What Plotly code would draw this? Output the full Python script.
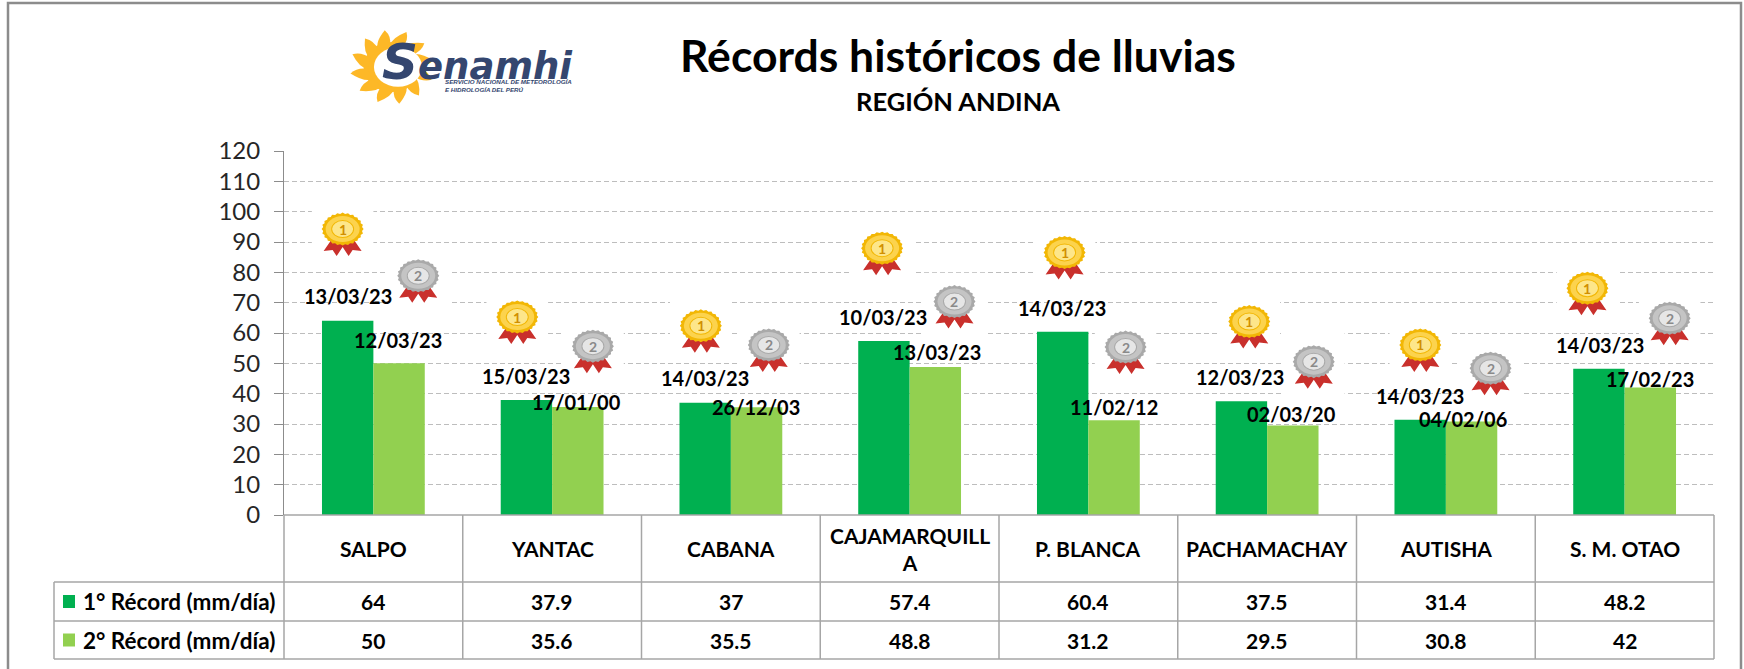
import base64, math
import plotly.graph_objects as go

# ---------- data ----------
stations = ["SALPO", "YANTAC", "CABANA", "CAJAMARQUILL<br>A", "P. BLANCA", "PACHAMACHAY", "AUTISHA", "S. M. OTAO"]
record_1 = [64, 37.9, 37, 57.4, 60.4, 37.5, 31.4, 48.2]
record_2 = [50, 35.6, 35.5, 48.8, 31.2, 29.5, 30.8, 42]
dates_1 = ["13/03/23", "15/03/23", "14/03/23", "10/03/23", "14/03/23", "12/03/23", "14/03/23", "14/03/23"]
dates_2 = ["12/03/23", "17/01/00", "26/12/03", "13/03/23", "11/02/12", "02/03/20", "04/02/06", "17/02/23"]
series_names = ["1° Récord (mm/día)", "2° Récord (mm/día)"]
y_ticks = list(range(0, 121, 10))

# ---------- placement of the free-floating decorations ----------
medal1_dx = [-.172, -.195, -.168, -.154, -.133, -.100, -.143, -.208]
medal1_y = [93.6, 64.6, 61.7, 87.3, 85.9, 63.1, 55.4, 74.1]
medal2_dx = [.251, .228, .212, .251, .208, .261, .250, .252]
medal2_y = [78.2, 55.0, 55.4, 69.7, 54.7, 49.9, 47.7, 64.2]
date1_dx = [-.141, -.145, -.143, -.147, -.145, -.150, -.142, -.140]
date1_y = [72.3, 45.9, 45.1, 65.3, 68.3, 45.5, 39.3, 56.1]
date2_dx = [.139, .135, .143, .151, .141, .135, .095, .140]
date2_y = [57.6, 37.4, 35.6, 53.6, 35.6, 33.4, 31.6, 44.8]

W, H = 1744, 669
L, R, T, B = 284, 1714, 151, 515
FONT = "Lato"
C1, C2 = "#00b050", "#92d050"
LINE = "#a6a6a6"
px = lambda v: (v - L) / (R - L)
py = lambda v: (B - v) / (B - T)


def uri(svg):
    return "data:image/svg+xml;base64," + base64.b64encode(svg.encode()).decode()


def medal_svg(face, rim, inner):
    pts = []
    for i in range(48):
        f = 1 if i % 2 == 0 else .93
        a = i * math.pi / 24
        pts.append(f"{31 + 21 * f * math.cos(a):.1f},{29 + 16.5 * f * math.sin(a):.1f}")
    return uri(f'''<svg xmlns="http://www.w3.org/2000/svg" width="62" height="62" viewBox="0 0 62 62">
<rect width="62" height="62" fill="#fff"/>
<path d="M21 38 L12 51 L21 50 L25 56 L31 47 L37 56 L41 50 L50 51 L41 38 Z" fill="#c9302c"/>
<polygon points="{' '.join(pts)}" fill="{rim}"/>
<ellipse cx="31" cy="29" rx="17" ry="13" fill="{face}"/>
<ellipse cx="31" cy="29" rx="11" ry="8.5" fill="{inner}" stroke="{rim}" stroke-width="1"/>
</svg>''')


def sun_svg():
    d = []
    n = 12
    cx, cy = 50, 50
    for i in range(n):
        a = 2 * math.pi * i / n - 1.4
        w = math.pi / n
        p = lambda r, t: f"{cx + r * math.cos(t):.1f} {cy + r * math.sin(t):.1f}"
        d.append(f"M{p(28, a - w)} Q{p(38, a - .2)} {p(49, a + .18)} Q{p(40, a + .35)} {p(28, a + w)} Z")
    return uri(f'''<svg xmlns="http://www.w3.org/2000/svg" width="100" height="100" viewBox="0 0 100 100">
<circle cx="50" cy="50" r="33" fill="#fdb827"/>{''.join(f'<path d="{s}" fill="#fdb827"/>' for s in d)}
<ellipse cx="57" cy="50" rx="28" ry="26" fill="#fff"/></svg>''')


GOLD = medal_svg("#fcd34d", "#f2b705", "#fde68a")
SILVER = medal_svg("#c4c4c4", "#a9a9a9", "#e6e6e6")

fig = go.Figure()
xs = list(range(len(stations)))
fig.add_bar(x=xs, y=record_1, name=series_names[0], marker=dict(color=C1, line_width=0))
fig.add_bar(x=xs, y=record_2, name=series_names[1], marker=dict(color=C2, line_width=0))

images, shapes, notes = [], [], []


def note(x, y, text, size, xref="paper", yref="paper", color="#000000", bold=True, family=FONT, xanchor="center", **kw):
    notes.append(dict(x=x, y=y, xref=xref, yref=yref, text=f"<b>{text}</b>" if bold else text, showarrow=False,
                      xanchor=xanchor, yanchor="middle", font=dict(family=family, size=size, color=color), **kw))


for i in xs:
    for dx, yy, src, dig, col in ((medal1_dx[i], medal1_y[i], GOLD, "1", "#d18f00"),
                                  (medal2_dx[i], medal2_y[i], SILVER, "2", "#8a8a8a")):
        images.append(dict(source=src, xref="x", yref="y", x=i + dx, y=yy, sizex=62 / 178.75, sizey=62 / 3.033,
                           xanchor="center", yanchor="middle", sizing="contain", layer="above"))
        note(i + dx, yy + .66, dig, 14, "x", "y", col)
    note(i + date1_dx[i], date1_y[i], dates_1[i], 20, "x", "y")
    note(i + date2_dx[i], date2_y[i], dates_2[i], 20, "x", "y")


def line(x0, y0, x1, y1, color=LINE, width=1.5):
    shapes.append(dict(type="line", xref="paper", yref="paper", x0=px(x0), y0=py(y0), x1=px(x1), y1=py(y1),
                       line=dict(color=color, width=width)))


# outer chart frame
shapes.append(dict(type="rect", xref="paper", yref="paper", x0=px(8), x1=px(1741), y0=py(3), y1=py(690),
                   line=dict(color="#8c8c8c", width=2.5), fillcolor="rgba(0,0,0,0)"))

# data table grid
col_w = (R - L) / len(stations)
rows = [B, 582, 621, 659]
for k in range(len(stations) + 1):
    line(L + k * col_w, B, L + k * col_w, rows[3])
line(L, B, R, B)
for r in rows[1:]:
    line(54, r, R, r)
line(54, rows[1], 54, rows[3])

for i in xs:
    cx = px(L + (i + .5) * col_w)
    note(cx, py((rows[0] + rows[1]) / 2), stations[i], 21)
    note(cx, py((rows[1] + rows[2]) / 2), str(record_1[i]), 21)
    note(cx, py((rows[2] + rows[3]) / 2), str(record_2[i]), 21)

for k, (c, nm) in enumerate(((C1, series_names[0]), (C2, series_names[1]))):
    mid = (rows[k + 1] + rows[k + 2]) / 2
    shapes.append(dict(type="rect", xref="paper", yref="paper", x0=px(63), x1=px(75), y0=py(mid - 6.5), y1=py(mid + 6.5),
                       fillcolor=c, line_width=0))
    note(px(81), py(mid), nm, 22.5, xanchor="left")

# titles
note(px(958), py(54), "Récords históricos de lluvias", 44.5)
note(px(958), py(101), "REGIÓN ANDINA", 25.5)

# logo
images.append(dict(source=sun_svg(), xref="paper", yref="paper", x=px(392), y=py(67), sizex=86 / (R - L), sizey=76 / (B - T),
                   xanchor="center", yanchor="middle", sizing="stretch", layer="above"))
note(px(380), py(62), '<i><span style="font-size:50px">S</span>enamhi</i>', 37, color="#34466f",
     family="DejaVu Sans", xanchor="left")
note(px(443), py(86), "<i>SERVICIO NACIONAL DE METEOROLOGÍA<br>E HIDROLOGÍA DEL PERÚ</i>", 6.2, color="#34466f",
     family="Liberation Sans", xanchor="left", align="left")

fig.update_layout(
    width=W, height=H, autosize=False,
    margin=dict(l=L, r=W - R, t=T, b=H - B, pad=0),
    paper_bgcolor="white", plot_bgcolor="white",
    barmode="group", bargap=0.425, bargroupgap=0,
    showlegend=False, images=images, shapes=shapes, annotations=notes,
    font=dict(family=FONT, color="#000000"),
    xaxis=dict(range=[-.5, 7.5], showticklabels=False, showgrid=False, zeroline=False, ticks="", showline=False),
    yaxis=dict(range=[0, 120], tickvals=y_ticks, ticks="outside", ticklen=9, tickcolor="#8c8c8c", tickwidth=1,
               ticklabelstandoff=9, tickfont=dict(family=FONT, size=24, color="#262626"), showgrid=True,
               gridcolor="#bdbdbd", griddash="5px,3px", gridwidth=1, showline=True, linecolor="#8c8c8c", linewidth=1,
               zeroline=False),
)
fig.write_html("out.html", config=dict(displayModeBar=False),
               post_script="document.body.style.margin='0';document.body.style.overflow='hidden';")
